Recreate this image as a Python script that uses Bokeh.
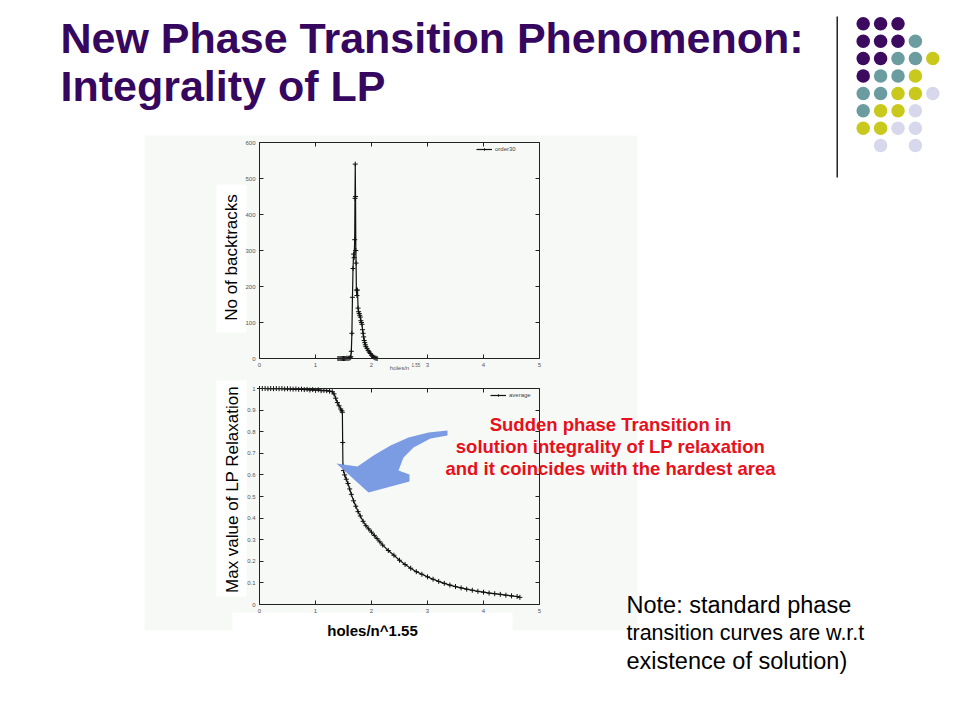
import math
from bokeh.plotting import figure
from bokeh.models import (Range1d, LinearAxis, FixedTicker, PrintfTickFormatter, Label,
                          BoxAnnotation, PolyAnnotation, Legend, LegendItem)
from bokeh.embed import file_html
from bokeh.resources import INLINE

# ---------------- data ----------------
x_ticks = [0, 1, 2, 3, 4, 5]
bt_ticks = [0, 100, 200, 300, 400, 500, 600]
lp_ticks = [0, 0.1, 0.2, 0.3, 0.4, 0.5, 0.6, 0.7, 0.8, 0.9, 1.0]

# number of backtracks (order30)
bt_x = [1.40, 1.42, 1.44, 1.46, 1.48, 1.50, 1.52, 1.54, 1.56, 1.58, 1.60, 1.62,
        1.63, 1.64, 1.65, 1.66, 1.67, 1.68, 1.69, 1.70, 1.705, 1.71, 1.715, 1.72,
        1.725, 1.73, 1.74, 1.75, 1.76, 1.77, 1.78, 1.79, 1.80, 1.81, 1.82, 1.83,
        1.84, 1.85, 1.86, 1.87, 1.88, 1.89, 1.90, 1.92, 1.94, 1.96, 1.98, 2.00,
        2.02, 2.04, 2.06, 2.08, 2.10]
bt_y = [0, 0, 0, 0, 0, 0, 0, 0, 1, 0, 1, 2,
        5, 20, 70, 170, 250, 290, 280, 330, 445, 540, 450, 300,
        265, 190, 175, 190, 140, 130, 125, 120, 115, 105, 100, 95,
        80, 70, 60, 50, 44, 38, 33, 28, 22, 18, 14, 9,
        6, 4, 2, 1, 0]

# max value of LP relaxation (average)
lp_x = [0.00, 0.05, 0.10, 0.15, 0.20, 0.25, 0.30, 0.35, 0.40, 0.45, 0.50, 0.55,
        0.60, 0.65, 0.70, 0.75, 0.80, 0.85, 0.90, 0.95, 1.00, 1.05, 1.10, 1.15,
        1.20, 1.25, 1.30, 1.33, 1.36, 1.39, 1.42, 1.45, 1.47, 1.48, 1.485, 1.49,
        1.50, 1.52, 1.55, 1.58, 1.61, 1.64, 1.68, 1.72, 1.76, 1.80, 1.85, 1.90,
        1.95, 2.00, 2.05, 2.10, 2.15, 2.20, 2.30, 2.40, 2.50, 2.60, 2.70, 2.80,
        2.90, 3.00, 3.10, 3.20, 3.30, 3.40, 3.50, 3.60, 3.70, 3.80, 3.90, 4.00,
        4.10, 4.20, 4.30, 4.40, 4.50, 4.60, 4.65]
lp_y = [1.000, 1.000, 1.000, 0.999, 1.000, 0.999, 1.000, 0.999, 1.000, 0.998, 0.999, 0.998,
        0.997, 0.998, 0.996, 0.997, 0.995, 0.996, 0.993, 0.995, 0.992, 0.994, 0.990, 0.991,
        0.990, 0.988, 0.985, 0.975, 0.955, 0.935, 0.920, 0.905, 0.897, 0.890, 0.750, 0.640,
        0.620, 0.600, 0.580, 0.560, 0.535, 0.510, 0.480, 0.455, 0.430, 0.410, 0.385, 0.365,
        0.350, 0.335, 0.320, 0.305, 0.290, 0.275, 0.250, 0.228, 0.205, 0.185, 0.168, 0.152,
        0.140, 0.128, 0.117, 0.107, 0.098, 0.090, 0.083, 0.077, 0.071, 0.066, 0.061, 0.057,
        0.053, 0.050, 0.047, 0.043, 0.040, 0.037, 0.033]

bt_series_name = "order30"
lp_series_name = "average"
title_lines = ["New Phase Transition Phenomenon:", "Integrality of LP"]
callout_lines = ["Sudden phase Transition in",
                 "solution integrality of LP relaxation",
                 "and it coincides with the hardest area"]
note_lines = ["Note: standard phase",
              "transition curves are w.r.t",
              "existence of solution)"]
bt_ylabel = "No of backtracks"
lp_ylabel = "Max value of LP Relaxation"
xlabel_big = "holes/n^1.55"
dot_rows = ["PPP", "PPPT", "PPTTY", "PTTY", "TTYYL", "TYYL", "YYLL", " L L"]
dot_colors = {"P": "#3C0B60", "T": "#6B9C9F", "Y": "#C9C81C", "L": "#D8D8EC"}

# ---------------- style / layout constants (page pixels) ----------------
FONT = "Liberation Sans"
TITLE_COLOR = "#36075F"
CHART_BG = "#F7F9F7"
LINE_COLOR = "#111111"
W, H = 944, 704
PX0, PY0 = 0, 0                      # page position of the canvas (as measured)
FX0, FX1 = 259, 539                  # chart frames, horizontal extent
TOP_FY0, TOP_FY1 = 142, 358          # upper chart vertical extent
BOT_FY0, BOT_FY1 = 388, 604          # lower chart vertical extent
X_MAX, BT_MAX, LP_MAX = 5, 600, 1


def extra_range(lo_pix, hi_pix, vmax, page_lo, page_hi):
    """Range whose value 0 sits at lo_pix and vmax at hi_pix, over the canvas page_lo..page_hi."""
    k = vmax / (hi_pix - lo_pix)
    return Range1d(start=(page_lo - lo_pix) * k, end=(page_hi - lo_pix) * k)


p = figure(width=W, height=H, x_range=Range1d(PX0, PX0 + W), y_range=Range1d(PY0 + H, PY0),
           x_axis_location=None, y_axis_location=None, min_border=0,
           output_backend="svg", toolbar_location=None, outline_line_color=None)
p.background_fill_color = "white"
p.border_fill_color = "white"
p.grid.visible = False
p.extra_x_ranges = {"cx": extra_range(FX0, FX1, X_MAX, PX0, PX0 + W)}
p.extra_y_ranges = {"bty": extra_range(TOP_FY1, TOP_FY0, BT_MAX, PY0 + H, PY0),
                    "lpy": extra_range(BOT_FY1, BOT_FY0, LP_MAX, PY0 + H, PY0)}


def style_axis(ax, ticks, show_labels=True):
    ax.ticker = FixedTicker(ticks=ticks)
    ax.formatter = PrintfTickFormatter(format="%g")
    ax.axis_line_color = "#222222"
    ax.axis_line_width = 1
    ax.major_tick_in = 4
    ax.major_tick_out = 0
    ax.major_tick_line_color = "#222222"
    ax.minor_tick_line_color = None
    ax.major_label_text_font = FONT
    ax.major_label_text_font_size = "6px"
    ax.major_label_standoff = 4
    ax.major_label_text_color = "#555555" if show_labels else None


def chart(x, y, yname, yticks, ymax, name, legend_px, legend_py):
    for loc, fixed, bounds, ticks, show in (("left", 0, (0, ymax), yticks, True),
                                            ("right", X_MAX, (0, ymax), yticks, False),
                                            ("below", 0, (0, X_MAX), x_ticks, True),
                                            ("above", ymax, (0, X_MAX), x_ticks, False)):
        ax = LinearAxis(x_range_name="cx", y_range_name=yname, fixed_location=fixed, bounds=bounds)
        style_axis(ax, ticks, show)
        p.add_layout(ax, loc)
    r_line = p.line(x, y, x_range_name="cx", y_range_name=yname, line_color=LINE_COLOR, line_width=1.2)
    r_pts = p.scatter(x, y, x_range_name="cx", y_range_name=yname, marker="cross", size=5,
                      line_color=LINE_COLOR, line_width=1)
    leg = Legend(items=[LegendItem(label=name, renderers=[r_line, r_pts])],
                 location=(legend_px - PX0, PY0 + H - legend_py),
                 label_text_font_size="6px", label_text_font=FONT,
                 label_text_color="#444444", glyph_width=16, glyph_height=6, label_height=6,
                 background_fill_alpha=0, border_line_alpha=0, margin=0, padding=2,
                 label_standoff=3)
    p.add_layout(leg)


def box(x0, x1, y0, y1, color):
    p.add_layout(BoxAnnotation(left=x0, right=x1, top=y0, bottom=y1, fill_color=color,
                               fill_alpha=1, line_color=None, level="underlay"))


def label(px, py, text, size, color="black", style="normal", align="left", angle=0.0):
    # py is the vertical centre of the text line
    p.add_layout(Label(x=px, y=py, text=text, text_font=FONT, text_font_size=size,
                       text_color=color, text_font_style=style, text_align=align,
                       text_baseline="middle", angle=angle))


# backgrounds of the pasted chart picture
box(144, 637, 135, 630, CHART_BG)
box(216, 246, 184, 332, "white")
box(216, 246, 380, 596, "white")
box(232, 512, 612, 632, "white")

chart(bt_x, bt_y, "bty", bt_ticks, BT_MAX, bt_series_name, 474, 154)
chart(lp_x, lp_y, "lpy", lp_ticks, LP_MAX, lp_series_name, 488, 400)

# title
label(60, 37, title_lines[0], "43px", TITLE_COLOR, "bold")
label(60, 85, title_lines[1], "43px", TITLE_COLOR, "bold")

# decorative dots and rule
dx, dy, cx0, cy0 = 17.4, 17.4, 862.7, 23.3
xs, ys, cs = [], [], []
for ri, rowstr in enumerate(dot_rows):
    for ci, ch in enumerate(rowstr):
        if ch in dot_colors:
            xs.append(cx0 + ci * dx)
            ys.append(cy0 + ri * dy)
            cs.append(dot_colors[ch])
p.scatter(xs, ys, size=13.5, fill_color=cs, line_color=None)
p.segment(x0=[836.7], y0=[16], x1=[836.7], y1=[177], line_color="black", line_width=1.3)

# axis labels
label(231, 257, bt_ylabel, "17px", "black", "normal", "center", math.pi / 2)
label(399, 367, "holes/n", "6px", "#555555", "normal", "center")
label(411, 364, "1.55", "4.5px", "#555555", "normal", "left")
label(232, 489, lp_ylabel, "17px", "black", "normal", "center", math.pi / 2)
label(372, 630, xlabel_big, "15px", "black", "bold", "center")

# callout arrow
arrow_outline = [(447, 430), (428, 432), (408, 437), (390, 445), (373, 455), (357, 466),
                 (336, 463), (368, 492), (409, 481), (409, 474), (398, 470), (403, 457),
                 (413, 447), (430, 438), (447, 435)]
p.add_layout(PolyAnnotation(xs=[a for a, _ in arrow_outline], ys=[b for _, b in arrow_outline],
                            fill_color="#7B9BE3", fill_alpha=1, line_color=None))

for i, t in enumerate(callout_lines):
    label(610, 424 + 22 * i, t, "18.5px", "#E8101A", "bold", "center")
note_sizes = ["23.5px", "21.5px", "23.5px"]
for i, t in enumerate(note_lines):
    label(626, 604 + 28 * i, t, note_sizes[i], "black", "normal", "left")

open("out.html", "w").write(file_html(p, INLINE))
